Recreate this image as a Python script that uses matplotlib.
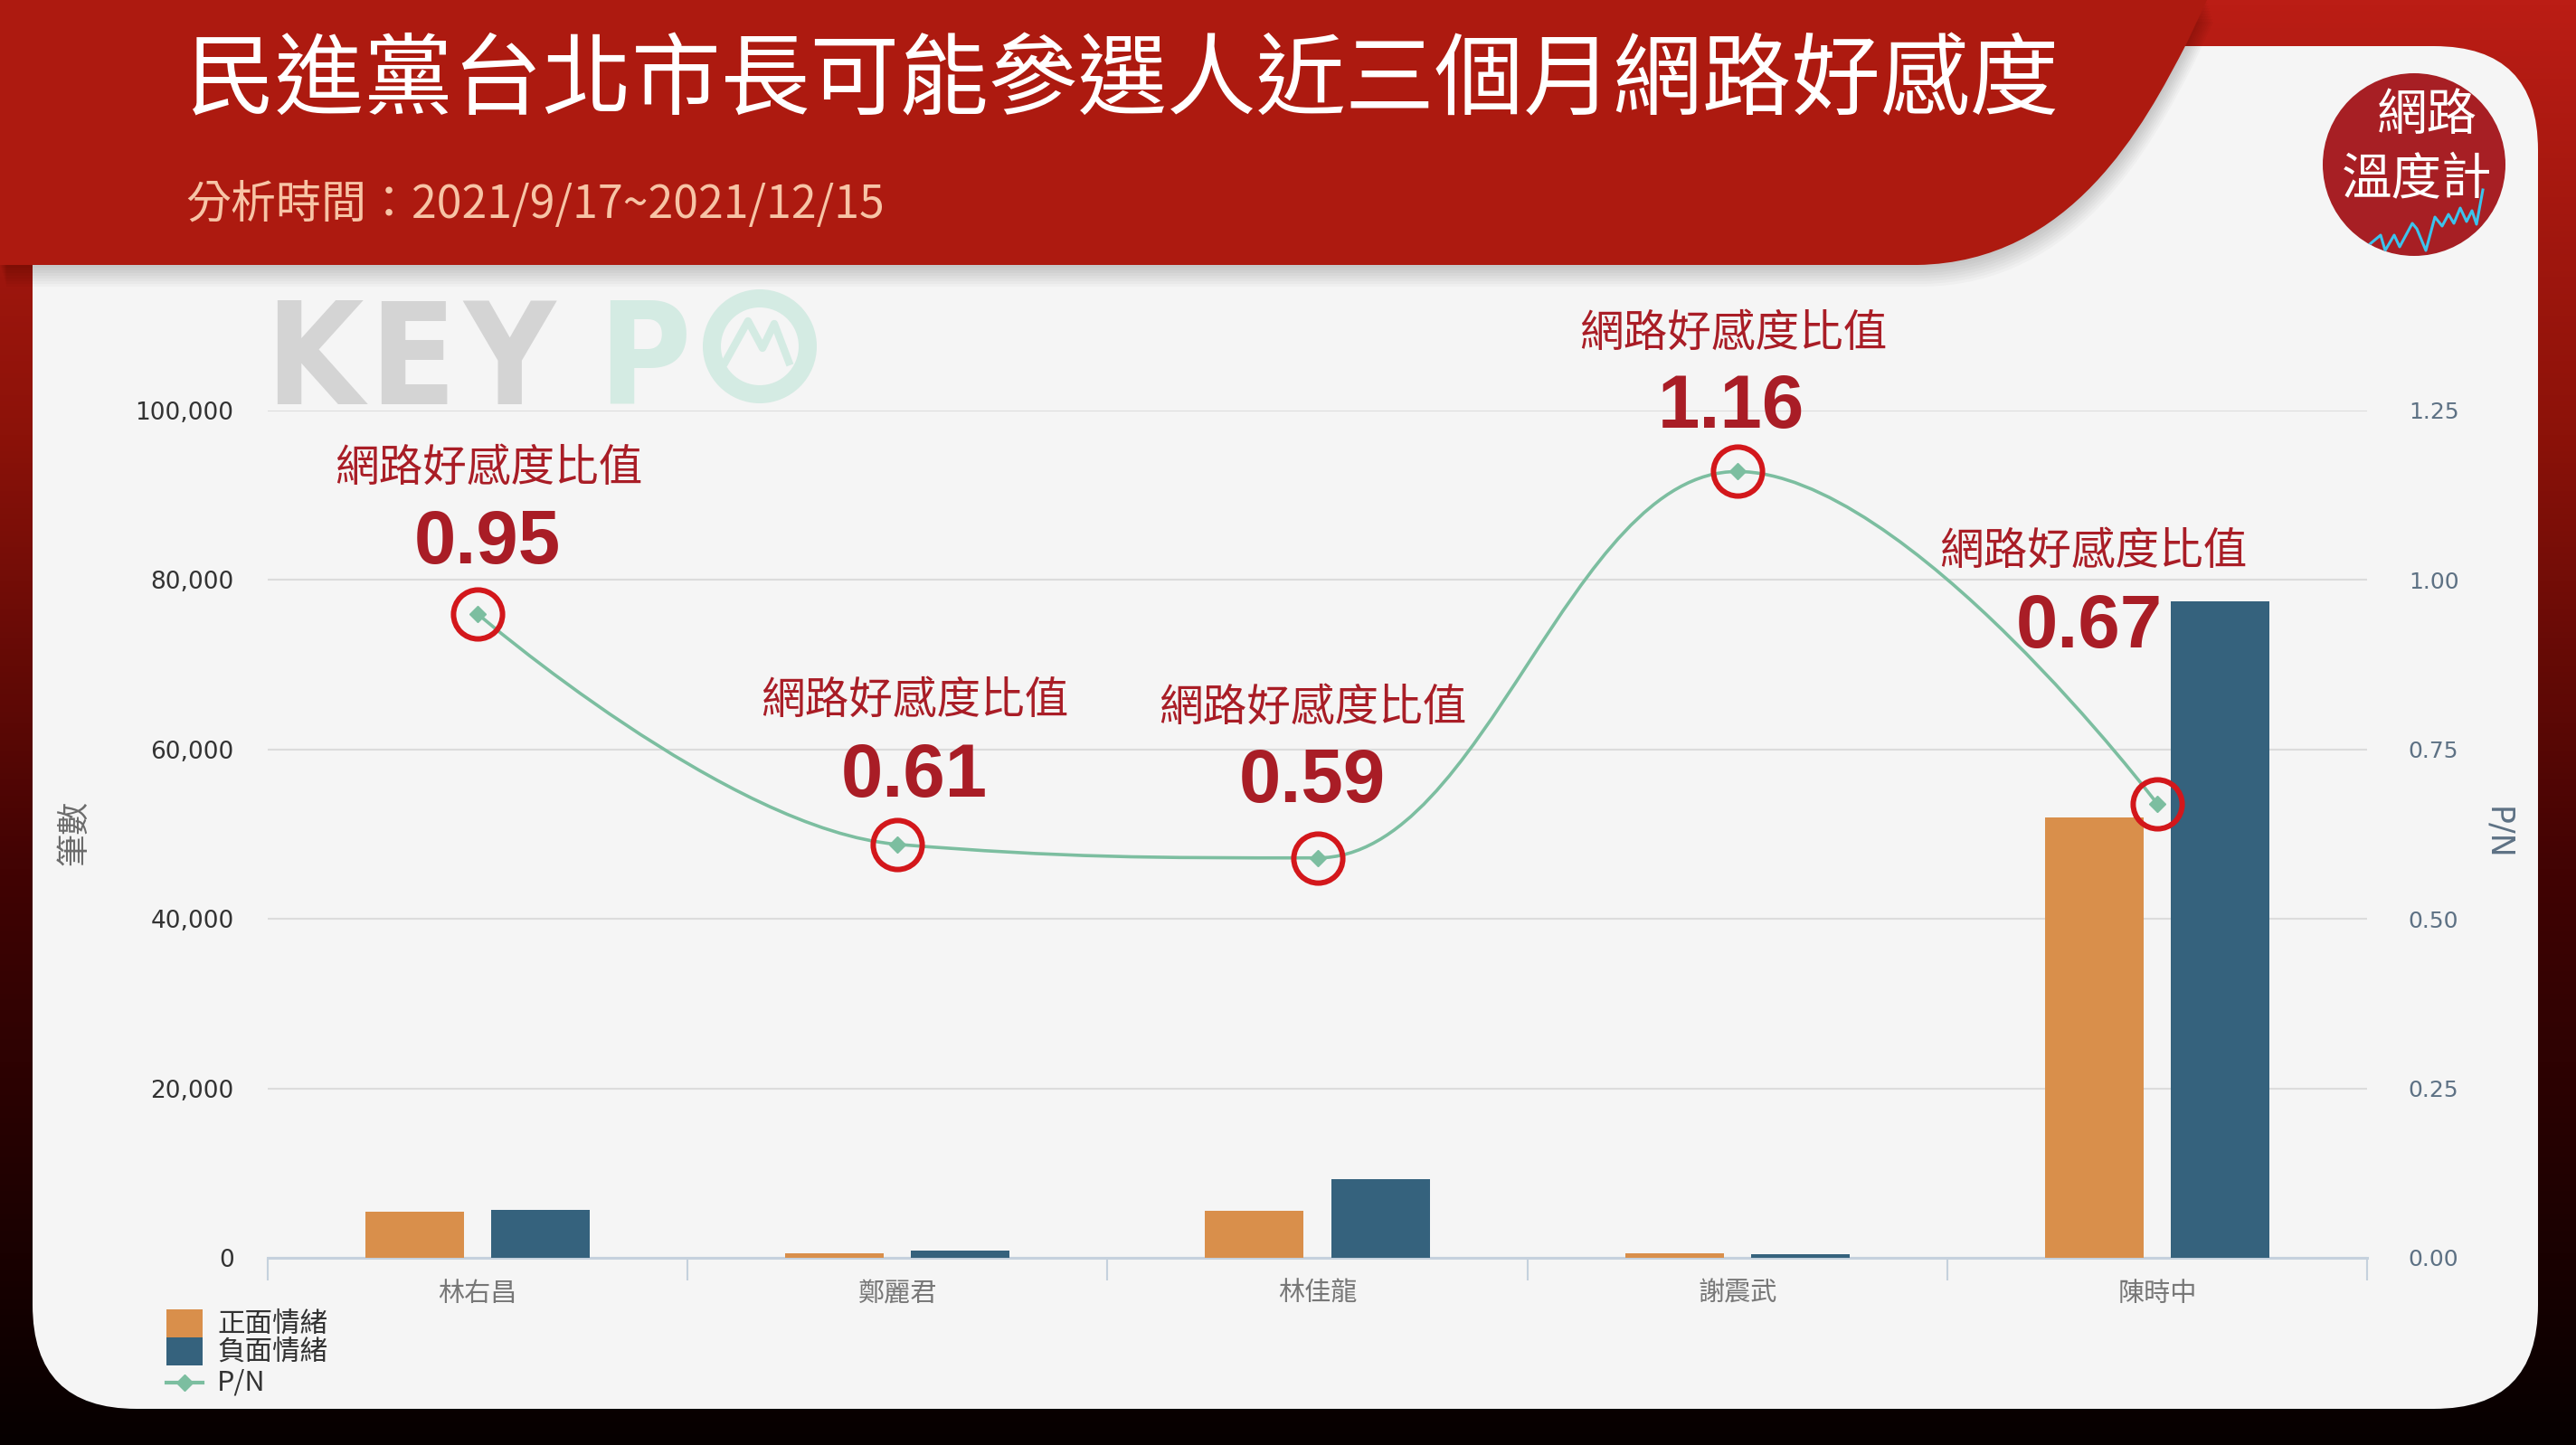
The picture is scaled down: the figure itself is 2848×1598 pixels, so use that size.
import numpy as np
import matplotlib
matplotlib.use('Agg')
import matplotlib.pyplot as plt
from matplotlib.patches import Rectangle, Circle, PathPatch, FancyBboxPatch
from matplotlib.path import Path
from matplotlib.lines import Line2D
from matplotlib.colors import LinearSegmentedColormap

# ---------------- data ----------------
candidates = ['林右昌', '鄭麗君', '林佳龍', '謝震武', '陳時中']
positive = [5400, 500, 5500, 500, 52000]
negative = [5700, 820, 9300, 430, 77500]
pn_ratio = [0.95, 0.61, 0.59, 1.16, 0.67]
pn_labels = ['0.95', '0.61', '0.59', '1.16', '0.67']
left_ticks = [0, 20000, 40000, 60000, 80000, 100000]
left_tick_labels = ['0', '20,000', '40,000', '60,000', '80,000', '100,000']
right_ticks = [0, 0.25, 0.5, 0.75, 1.0, 1.25]
right_tick_labels = ['0.00', '0.25', '0.50', '0.75', '1.00', '1.25']
series_names = ['正面情緒', '負面情緒', 'P/N']
title = '民進黨台北市長可能參選人近三個月網路好感度'
subtitle = '分析時間：2021/9/17~2021/12/15'
annot_title = '網路好感度比值'
y_label = '筆數'
y2_label = 'P/N'

# ---------------- styles ----------------
ORANGE = '#d98f4b'
BLUE = '#35627d'
GREEN = '#7cbea0'
RING = '#d3171b'
ANNOT = '#a91d26'
CJK = ['Noto Sans CJK TC', 'DejaVu Sans']
plt.rcParams['font.family'] = CJK

W, H = 2848, 1598
DPI = 100
fig = plt.figure(figsize=(W / DPI, H / DPI), dpi=DPI)

# ---------------- background (pixel coordinates) ----------------
bg = fig.add_axes([0, 0, 1, 1], zorder=0)
bg.set_xlim(0, W)
bg.set_ylim(H, 0)
bg.axis('off')

cmap = LinearSegmentedColormap.from_list(
    'bgrad', [(0.0, '#bb1d15'), (0.3, '#8c1209'), (0.6, '#420303'), (1.0, '#060000')])
grad = np.linspace(0, 1, 256).reshape(-1, 1)
bg.imshow(grad, cmap=cmap, extent=(0, W, H, 0), aspect='auto', zorder=0)

panel = FancyBboxPatch((36, 51), 2770, 1507, boxstyle='round,pad=0,rounding_size=115',
                       facecolor='#f5f5f5', edgecolor='none', zorder=1)
bg.add_patch(panel)

banner_verts = [(0, 0), (2440, 0), (2418, 47), (2370, 140), (2290, 290), (2120, 293),
                (0, 293), (0, 0)]
banner_codes = [Path.MOVETO, Path.LINETO, Path.LINETO, Path.CURVE4, Path.CURVE4, Path.CURVE4,
                Path.LINETO, Path.CLOSEPOLY]
for dy in range(3, 27, 3):
    sv = [(vx + dy * 0.3, vy + dy) for vx, vy in banner_verts]
    bg.add_patch(PathPatch(Path(sv, banner_codes), facecolor='black', edgecolor='none',
                           alpha=0.025, zorder=2))
bg.add_patch(PathPatch(Path(banner_verts, banner_codes), facecolor='#ad1a10',
                       edgecolor='none', zorder=3))

bg.text(205, 92, title, fontsize=71, color='white', ha='left', va='center', zorder=4)
bg.text(205, 227, subtitle, fontsize=36, color='#f7c4a6', ha='left', va='center', zorder=4)

# KEYPO watermark
for letter, lx, col in [('K', 347, '#d4d4d4'), ('E', 456, '#d4d4d4'),
                        ('Y', 563, '#d4d4d4'), ('P', 712, '#d4ebe3')]:
    bg.text(lx, 447, letter, fontsize=112, fontweight='bold', family='DejaVu Sans',
            fontstretch='condensed', color=col, ha='center', va='baseline', zorder=2)
bg.add_patch(Circle((840, 383), 53, facecolor='none', edgecolor='#d4ebe3',
                    linewidth=20 * 0.72, zorder=2))
bg.add_line(Line2D([802, 827, 843, 856, 872], [400, 355, 385, 358, 400],
                   color='#d4ebe3', lw=6, zorder=2))

# logo
logo = Circle((2669, 182), 101, facecolor='#a71f24', edgecolor='none', zorder=4)
bg.add_patch(logo)
zz = Line2D([2610, 2620, 2632, 2637, 2647, 2653, 2667, 2672, 2682, 2692, 2700, 2707,
             2713, 2720, 2727, 2733, 2738, 2745],
            [275, 270, 260, 277, 260, 273, 247, 253, 277, 240, 250, 237, 247, 230, 245,
             233, 248, 210], color='#3cc3ec', lw=2.2, zorder=5)
bg.add_line(zz)
zz.set_clip_path(logo)
bg.text(2683, 128, '網路', fontsize=40, color='white', fontweight='medium', ha='center',
        va='center', zorder=6)
bg.text(2672, 200, '溫度計', fontsize=40, color='white', fontweight='medium', ha='center',
        va='center', zorder=6)

# axis titles
bg.text(82, 921, y_label, fontsize=26, color='#6b6b6b', rotation=90, ha='center',
        va='center', zorder=4)
bg.text(2761, 921, y2_label, fontsize=25, color='#5d7184', rotation=270, ha='center',
        va='center', family='DejaVu Sans', zorder=4)

# legend (manual)
bg.add_patch(Rectangle((184, 1448), 40, 31, facecolor=ORANGE, edgecolor='none', zorder=4))
bg.add_patch(Rectangle((184, 1479), 40, 31, facecolor=BLUE, edgecolor='none', zorder=4))
bg.add_line(Line2D([184, 224], [1529, 1529], color=GREEN, lw=3, zorder=4))
bg.add_line(Line2D([204], [1529], color=GREEN, marker='D', ms=9, ls='none', zorder=4))
for name, ly in zip(series_names, [1464, 1495, 1529]):
    bg.text(240, ly, name, fontsize=22, color='#333333', ha='left', va='center', zorder=4)

# ---------------- main chart ----------------
ax = fig.add_axes([296 / W, 1 - 1391 / H, (2617 - 296) / W, (1391 - 454) / H], zorder=2)
ax.patch.set_alpha(0)
x = np.arange(len(candidates))
ax.bar(x - 0.15, positive, 0.235, color=ORANGE, zorder=3)
ax.bar(x + 0.15, negative, 0.235, color=BLUE, zorder=3)
ax.set_xlim(-0.5, len(candidates) - 0.5)
ax.set_ylim(0, 100000)
ax.set_yticks(left_ticks, left_tick_labels)
ax.tick_params(axis='y', length=0, pad=27, labelsize=19, labelcolor='#333333')
for lab in ax.get_yticklabels():
    lab.set_family('DejaVu Sans')
ax.grid(axis='y', color='#dcdcdc', lw=1.5)
ax.set_axisbelow(True)
for s in ['left', 'right', 'top']:
    ax.spines[s].set_visible(False)
ax.spines['bottom'].set_color('#c5d1dd')
ax.spines['bottom'].set_linewidth(2.2)
ax.set_xticks(np.arange(-0.5, len(candidates), 1.0))
ax.set_xticklabels([''] * (len(candidates) + 1))
ax.set_xticks(x, candidates, minor=True)
ax.tick_params(axis='x', which='major', length=18, width=1.5, color='#c5d1dd')
ax.tick_params(axis='x', which='minor', length=0, pad=18, labelsize=21, labelcolor='#777777')

ax2 = ax.twinx()
ax2.set_zorder(3)
ax2.patch.set_alpha(0)
ax2.set_ylim(0, 1.25)
ax2.set_yticks(right_ticks, right_tick_labels)
ax2.tick_params(axis='y', length=0, pad=33, labelsize=18, labelcolor='#5d7184')
for lab in ax2.get_yticklabels():
    lab.set_family('DejaVu Sans')
for s in ax2.spines.values():
    s.set_visible(False)


def spline_path(xs, ys, smoothing=1.5):
    n = len(xs)
    denom = smoothing + 1
    lc = [None] * n
    rc = [None] * n
    for i in range(1, n - 1):
        px, py = xs[i], ys[i]
        lx, ly = xs[i - 1], ys[i - 1]
        nx, ny = xs[i + 1], ys[i + 1]
        l_x = (smoothing * px + lx) / denom
        l_y = (smoothing * py + ly) / denom
        r_x = (smoothing * px + nx) / denom
        r_y = (smoothing * py + ny) / denom
        corr = ((r_y - l_y) * (r_x - px)) / (r_x - l_x) + py - r_y
        l_y += corr
        r_y += corr
        if l_y > ly and l_y > py:
            l_y = max(ly, py); r_y = 2 * py - l_y
        elif l_y < ly and l_y < py:
            l_y = min(ly, py); r_y = 2 * py - l_y
        if r_y > ny and r_y > py:
            r_y = max(ny, py); l_y = 2 * py - r_y
        elif r_y < ny and r_y < py:
            r_y = min(ny, py); l_y = 2 * py - r_y
        lc[i] = (l_x, l_y)
        rc[i] = (r_x, r_y)
    verts = [(xs[0], ys[0])]
    codes = [Path.MOVETO]
    for i in range(1, n):
        c1 = rc[i - 1] if rc[i - 1] is not None else (xs[i - 1], ys[i - 1])
        c2 = lc[i] if lc[i] is not None else (xs[i], ys[i])
        verts += [c1, c2, (xs[i], ys[i])]
        codes += [Path.CURVE4] * 3
    return Path(verts, codes)


ax2.add_patch(PathPatch(spline_path(list(x), pn_ratio), facecolor='none', edgecolor=GREEN,
                        lw=2.6, zorder=4))
ax2.plot(x, pn_ratio, ls='none', marker='D', ms=9, color=GREEN, zorder=5)
ax2.plot(x, pn_ratio, ls='none', marker='o', ms=39, mfc='none', mec=RING, mew=4.3, zorder=6,
         clip_on=False)

title_offsets = [(9, 116), (14, 114), (-4, 119), (-3, 110), (-51, 201)]
num_offsets = [(8, 56), (13, 54), (-4, 60), (-5, 51), (-54, 140)]
for i in range(len(candidates)):
    ax2.annotate(annot_title, xy=(x[i], pn_ratio[i]), xytext=title_offsets[i],
                 textcoords='offset points', ha='center', va='center', fontsize=35,
                 color=ANNOT, zorder=7, annotation_clip=False)
    ax2.annotate(pn_labels[i], xy=(x[i], pn_ratio[i]), xytext=num_offsets[i],
                 textcoords='offset points', ha='center', va='center', fontsize=60,
                 fontweight='bold', family=['Liberation Sans', 'DejaVu Sans'],
                 color=ANNOT, zorder=7, annotation_clip=False)

fig.savefig('out.png', dpi=DPI)
